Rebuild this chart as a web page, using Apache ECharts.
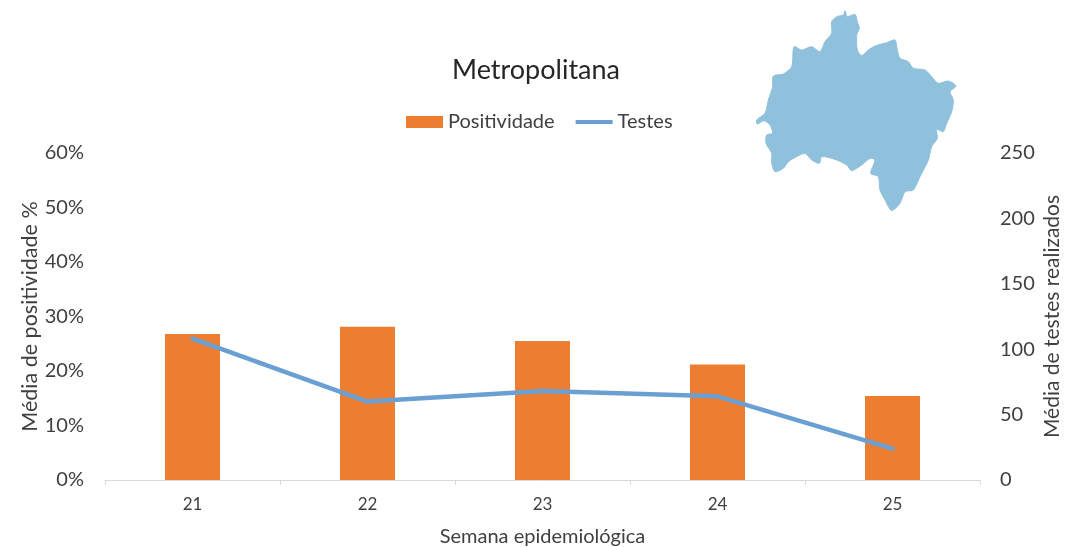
<!DOCTYPE html>
<html>
<head>
<meta charset="utf-8">
<style>html,body{margin:0;padding:0;background:#fff}#c{width:1066px;height:547px}</style>
<script src="https://cdn.jsdelivr.net/npm/echarts@6/dist/echarts.min.js"></script>
</head>
<body>
<div id="c"></div>
<script>
const categories = ['21','22','23','24','25'];
const positividade = [26.8, 28.1, 25.5, 21.2, 15.4];
const testes = [108, 60, 68, 64, 24];
const leftTicks = {min:0, max:60, interval:10};
const rightTicks = {min:0, max:250, interval:50};
// Region silhouette, decorative (reference image crop coordinates, 3x)
const regionOutline = [[315,32],[322,50],[345,43],[352,65],[358,85],[350,105],[352,150],[365,167],[385,150],[405,138],[440,128],[465,120],[472,150],[480,175],[505,185],[520,205],[555,210],[575,230],[595,250],[625,243],[648,258],[630,275],[640,300],[635,335],[618,375],[610,395],[590,388],[592,415],[575,440],[565,480],[540,530],[520,570],[495,575],[480,610],[455,632],[435,600],[420,570],[415,530],[392,520],[405,480],[390,475],[365,495],[335,512],[320,495],[285,478],[245,470],[238,490],[215,480],[195,460],[170,470],[145,485],[130,505],[105,515],[95,490],[95,460],[78,430],[80,405],[98,400],[90,375],[72,362],[52,372],[50,360],[75,340],[85,300],[98,260],[100,228],[130,222],[155,200],[162,140],[185,150],[215,140],[240,155],[255,125],[275,100],[275,65],[290,50],[310,45]];

const font = 'Lato';
const txt = '#404040';
const chart = echarts.init(document.getElementById('c'), null, {renderer:'canvas'});
chart.setOption({
  animation:false,
  backgroundColor:'#fff',
  textStyle:{fontFamily:font},
  title:{text:'Metropolitana', left:531, top:52, textAlign:'center',
    textStyle:{fontFamily:font,fontSize:27,fontWeight:'normal',color:'#262626'}},
  legend:{left:401, top:107, itemWidth:37, itemHeight:12, itemGap:21,
    textStyle:{fontFamily:font,fontSize:20,color:txt,padding:[0,0,0,0]},
    data:[{name:'Positividade',icon:'rect'},
          {name:'Testes',icon:'path://M0 0H37V4H0Z',itemStyle:{color:'#6a9fd3'}}]},
  grid:{left:105, right:86, top:153, bottom:67, outerBoundsMode:'none'},
  xAxis:{type:'category', data:categories,
    axisLine:{lineStyle:{color:'#d9d9d9',width:1}},
    axisTick:{show:true,length:5,lineStyle:{color:'#d9d9d9'}},
    axisLabel:{fontFamily:font,fontSize:17,color:txt,margin:16},
    name:'Semana epidemiológica', nameLocation:'middle', nameGap:47, nameMoveOverlap:false,
    nameTextStyle:{fontFamily:font,fontSize:20,color:txt}},
  yAxis:[
    {type:'value',...leftTicks,
      axisLine:{show:false},axisTick:{show:false},splitLine:{show:false},
      axisLabel:{formatter:'{value}%',fontFamily:font,fontSize:20,color:txt,margin:21},
      name:'Média de positividade %',nameLocation:'middle',nameGap:64,nameRotate:90,nameMoveOverlap:false,
      nameTextStyle:{fontFamily:font,fontSize:21.5,color:txt}},
    {type:'value',...rightTicks,position:'right',
      axisLine:{show:false},axisTick:{show:false},splitLine:{show:false},
      axisLabel:{fontFamily:font,fontSize:20,color:txt,margin:20},
      name:'Média de testes realizados',nameLocation:'middle',nameGap:62,nameRotate:90,nameMoveOverlap:false,
      nameTextStyle:{fontFamily:font,fontSize:21,color:txt}}
  ],
  series:[
    {name:'Positividade',type:'bar',data:positividade,barWidth:55,itemStyle:{color:'#ed7d31'}},
    {name:'Testes',type:'line',yAxisIndex:1,data:testes,symbol:'none',smooth:false,
      lineStyle:{color:'#6a9fd3',width:4.5,cap:'round',join:'round'},itemStyle:{color:'#6a9fd3'},z:3}
  ],
  graphic:[{type:'polygon',z:10,
    shape:{points:regionOutline.map(p=>[740+p[0]/3,p[1]/3]),smooth:0.25},
    style:{fill:'#8fc1dc',stroke:'#8fc1dc',lineWidth:1}}]
});
</script>
</body>
</html>
